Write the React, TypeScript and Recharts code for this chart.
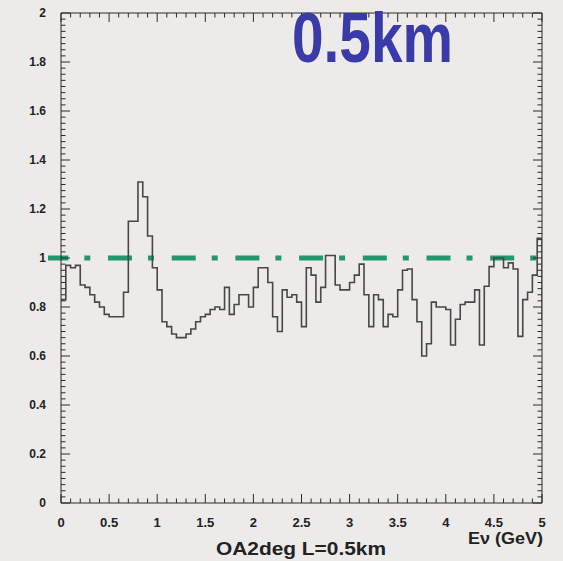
import { ComposedChart, Line, XAxis, YAxis, ReferenceLine } from 'recharts'

// histogram: ratio per 0.05 GeV bin, 0 → 5 GeV
const BIN_WIDTH = 0.05
const RATIO = [
  0.83, 0.97, 0.96, 0.97, 0.89, 0.88, 0.85, 0.82, 0.80, 0.77,
  0.76, 0.76, 0.76, 0.86, 1.15, 1.15, 1.31, 1.25, 1.09, 0.96,
  0.87, 0.74, 0.72, 0.69, 0.675, 0.675, 0.69, 0.71, 0.74, 0.76,
  0.77, 0.79, 0.80, 0.79, 0.88, 0.77, 0.81, 0.85, 0.85, 0.80,
  0.88, 0.96, 0.96, 0.90, 0.76, 0.70, 0.87, 0.84, 0.85, 0.82,
  0.72, 0.96, 0.93, 0.82, 0.88, 1.01, 1.01, 0.89, 0.87, 0.87,
  0.90, 0.93, 0.975, 0.85, 0.72, 0.85, 0.83, 0.72, 0.77, 0.76,
  0.87, 0.95, 0.955, 0.83, 0.74, 0.60, 0.65, 0.82, 0.80, 0.80,
  0.79, 0.645, 0.75, 0.81, 0.82, 0.82, 0.87, 0.645, 0.885, 0.965,
  1.00, 1.00, 0.96, 0.98, 0.955, 0.68, 0.83, 0.86, 0.93, 1.08,
]
const RIGHT_EDGE_VALUE = 0.75

// the dash-dot unity line starts a little left of the frame
const UNITY_LINE = [{ x: -0.135, y: 1 }, { x: 5, y: 1 }]

const X_MAJOR = [0, 0.5, 1, 1.5, 2, 2.5, 3, 3.5, 4, 4.5, 5]
const X_LABELS = ['0', '0.5', '1', '1.5', '2', '2.5', '3', '3.5', '4', '4.5', '5']
const Y_MAJOR = [0, 0.2, 0.4, 0.6, 0.8, 1, 1.2, 1.4, 1.6, 1.8, 2]
const Y_LABELS = ['0', '0.2', '0.4', '0.6', '0.8', '1', '1.2', '1.4', '1.6', '1.8', '2']

const TITLE = '0.5km'
const X_TITLE = 'Eν (GeV)'
const CAPTION = 'OA2deg L=0.5km'

const BG = '#ecebe9'
const FRAME = '#2b2b2b'
const FONT = '"Liberation Sans", Arial, sans-serif'

// plot box edges (px) — used only to mirror the ticks on top / right
const W = 563
const H = 561
const M = { top: 13, right: 21, bottom: 57, left: 0 }
const PLOT_TOP = M.top
const PLOT_BOTTOM = H - M.bottom - 1
const PLOT_RIGHT = W - M.right

const xTicks = Array.from({ length: 51 }, (_, i) => i / 10)
const yTicks = Array.from({ length: 81 }, (_, i) => i / 40)

const data = [
  ...RATIO.map((v, i) => ({ x: Math.round(i * BIN_WIDTH * 100) / 100, y: v })),
  { x: 5, y: RIGHT_EDGE_VALUE },
]

const majorIndex = (list: number[], v: number) => list.findIndex((m) => Math.abs(m - v) < 1e-6)

function XTick(props: any) {
  const { x, payload } = props
  const idx = majorIndex(X_MAJOR, payload.value)
  const len = idx >= 0 ? 9 : 4.5
  return (
    <g>
      <line x1={x} x2={x} y1={PLOT_BOTTOM} y2={PLOT_BOTTOM - len} stroke={FRAME} strokeWidth={1} />
      <line x1={x} x2={x} y1={PLOT_TOP} y2={PLOT_TOP + len} stroke={FRAME} strokeWidth={1} />
      {idx >= 0 && (
        <text x={x} y={PLOT_BOTTOM + 24} textAnchor="middle" fontSize={13} fontWeight="bold" fontFamily={FONT} fill="#222">
          {X_LABELS[idx]}
        </text>
      )}
    </g>
  )
}

function YTick(props: any) {
  const { x, y, payload } = props
  const idx = majorIndex(Y_MAJOR, payload.value)
  const len = idx >= 0 ? 9 : 4.5
  return (
    <g>
      <line x1={x} x2={x + len} y1={y} y2={y} stroke={FRAME} strokeWidth={1} />
      <line x1={PLOT_RIGHT} x2={PLOT_RIGHT - len} y1={y} y2={y} stroke={FRAME} strokeWidth={1} />
      {idx >= 0 && (
        <text x={x - 15} y={y} dy="0.35em" textAnchor="end" fontSize={12} fontWeight="bold" fontFamily={FONT} fill="#222">
          {Y_LABELS[idx]}
        </text>
      )}
    </g>
  )
}

export default function App() {
  return (
    <div style={{ position: 'absolute', left: 0, top: 0, width: W, height: H, background: BG, overflow: 'hidden' }}>
      <ComposedChart width={W} height={H} data={data} margin={M}>
        <XAxis
          dataKey="x" type="number" domain={[0, 5]} ticks={xTicks} interval={0}
          allowDataOverflow height={1} tickSize={0} tickMargin={0}
          axisLine={{ stroke: FRAME }} tickLine={false}
          tick={(p: any) => <XTick {...p} />}
        />
        <YAxis
          type="number" domain={[0, 2]} ticks={yTicks} interval={0}
          allowDataOverflow width={61} tickSize={0} tickMargin={0}
          axisLine={{ stroke: FRAME }} tickLine={false}
          tick={(p: any) => <YTick {...p} />}
        />
        <ReferenceLine y={2} stroke={FRAME} strokeWidth={1} />
        <ReferenceLine x={5} stroke={FRAME} strokeWidth={1} />
        <ReferenceLine
          segment={UNITY_LINE} ifOverflow="visible" stroke="#23986b" strokeWidth={5}
          strokeDasharray="24 16 6 17.7" strokeDashoffset={3.7}
        />
        <Line
          dataKey="y" type="stepAfter" stroke="#474747" strokeWidth={1.6}
          dot={false} activeDot={false} isAnimationActive={false}
        />
      </ComposedChart>
      <svg width={W} height={H} style={{ position: 'absolute', left: 0, top: 0, pointerEvents: 'none' }}>
        <text x={292} y={62} fontSize={70} fontWeight="bold" fontFamily={FONT} fill="#3a3ba8"
              textLength={161} lengthAdjust="spacingAndGlyphs">
          {TITLE}
        </text>
        <text x={468} y={544} fontSize={17} fontWeight="bold" fontFamily={FONT} fill="#222"
              textLength={75} lengthAdjust="spacingAndGlyphs">
          {X_TITLE}
        </text>
        <text x={216} y={555} fontSize={18} fontWeight="bold" fontFamily={FONT} fill="#222"
              textLength={170} lengthAdjust="spacingAndGlyphs">
          {CAPTION}
        </text>
      </svg>
    </div>
  )
}
